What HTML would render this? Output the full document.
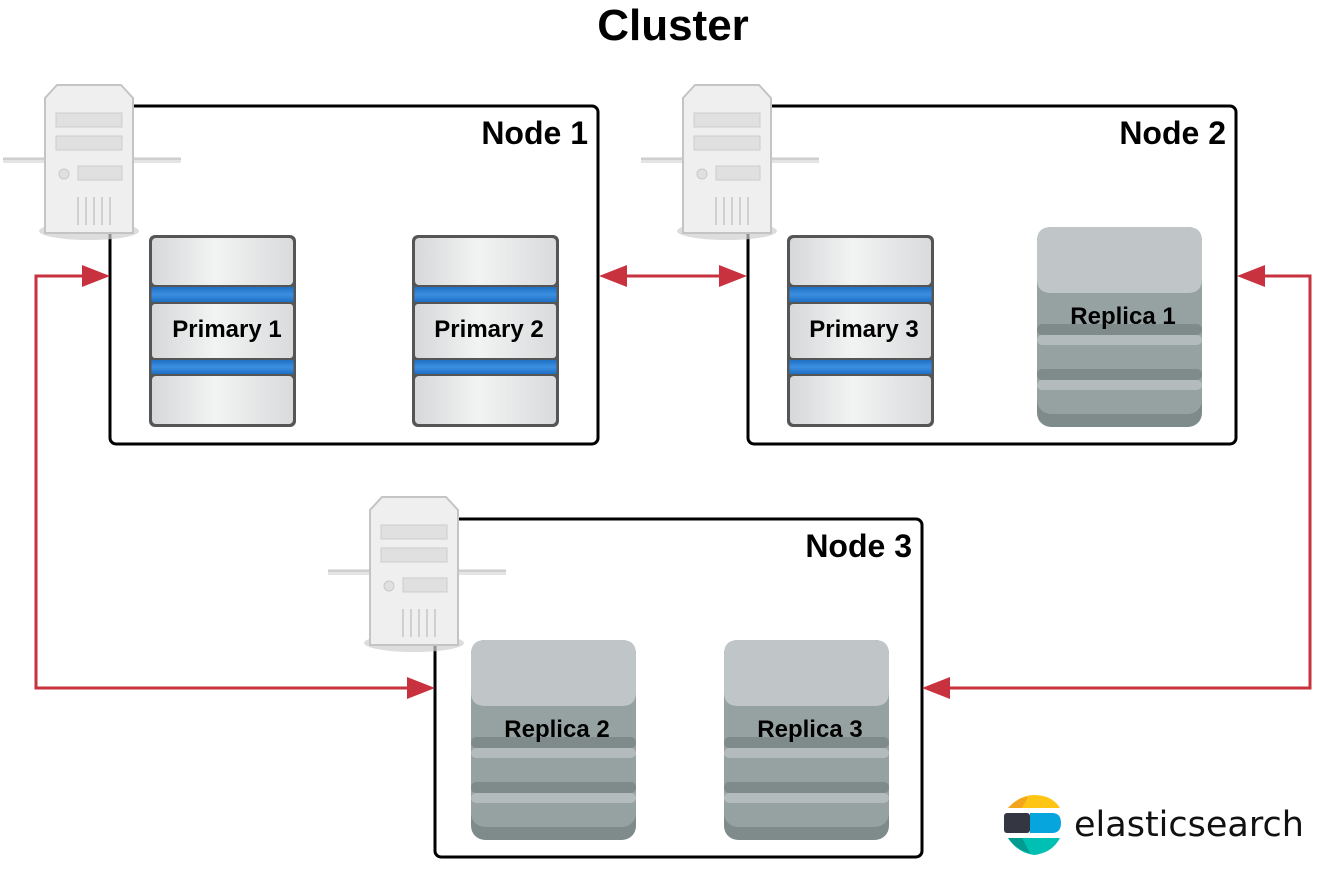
<!DOCTYPE html>
<html><head><meta charset="utf-8"><style>
html,body{margin:0;padding:0;background:#fff;}
svg{display:block;font-family:"Liberation Sans",Arial,sans-serif;}
</style></head><body>
<svg width="1335" height="880" viewBox="0 0 1335 880" xmlns="http://www.w3.org/2000/svg">
<defs>
<linearGradient id="pg" x1="0" x2="1" y1="0" y2="0">
<stop offset="0" stop-color="#d6d8d9"/><stop offset="0.45" stop-color="#f2f3f3"/><stop offset="1" stop-color="#d9dbdc"/>
</linearGradient>
<linearGradient id="bg" x1="0" x2="0" y1="0" y2="1">
<stop offset="0" stop-color="#1f6fc4"/><stop offset="0.5" stop-color="#3b8fe0"/><stop offset="1" stop-color="#1f6fc4"/>
</linearGradient>
<g id="prim">
<rect x="0" y="0" width="147" height="192" rx="6" fill="#555"/>
<rect x="2.5" y="52" width="142" height="15" fill="url(#bg)"/>
<rect x="2.5" y="125" width="142" height="14" fill="url(#bg)"/>
<rect x="3" y="3" width="141" height="47" rx="4" fill="url(#pg)"/>
<rect x="3" y="69" width="141" height="54" rx="3" fill="url(#pg)"/>
<rect x="3" y="141" width="141" height="48" rx="4" fill="url(#pg)"/>
</g>
<g id="rep">
<rect x="0" y="0" width="165" height="200" rx="14" fill="#7f8b8a"/>
<rect x="0" y="0" width="165" height="187" rx="14" fill="#95a2a1"/>
<rect x="0" y="142" width="165" height="11" rx="5" fill="#7f8b8a"/>
<rect x="0" y="153" width="165" height="10" rx="5" fill="#b4bbbd"/>
<rect x="0" y="97" width="165" height="11" rx="5" fill="#7f8b8a"/>
<rect x="0" y="108" width="165" height="10" rx="5" fill="#b4bbbd"/>
<path d="M0 14 Q0 0 14 0 H151 Q165 0 165 14 V52 Q165 66 151 66 H14 Q0 66 0 52 Z" fill="#c0c5c8"/>
</g>
<g id="srv">
<rect x="-42" y="72" width="178" height="6" fill="#e4e4e4"/>
<rect x="-42" y="73" width="178" height="2" fill="#cfcfcf"/>
<ellipse cx="44" cy="146" rx="50" ry="9" fill="#cfcfcf" opacity="0.7"/>
<path d="M12 0 H76 L88 13 V148 H0 V13 Z" fill="#efefef" stroke="#c4c4c4" stroke-width="2"/>
<rect x="11" y="28" width="66" height="14" fill="#e0e0e0" stroke="#cccccc"/>
<rect x="11" y="51" width="66" height="14" fill="#e0e0e0" stroke="#cccccc"/>
<circle cx="19" cy="89" r="5" fill="#e0e0e0" stroke="#c9c9c9"/>
<rect x="33" y="81" width="44" height="14" fill="#e0e0e0" stroke="#cccccc"/>
<g stroke="#d0d0d0" stroke-width="2"><line x1="33" y1="112" x2="33" y2="140"/><line x1="41" y1="112" x2="41" y2="140"/><line x1="49" y1="112" x2="49" y2="140"/><line x1="57" y1="112" x2="57" y2="140"/><line x1="65" y1="112" x2="65" y2="140"/></g>
</g>
</defs>

<text x="673" y="40" text-anchor="middle" font-size="44" font-weight="bold">Cluster</text>

<rect x="110" y="106" width="488" height="338" rx="6" fill="none" stroke="#000" stroke-width="3"/>
<rect x="748" y="106" width="488" height="338" rx="6" fill="none" stroke="#000" stroke-width="3"/>
<rect x="435" y="519" width="487" height="338" rx="6" fill="none" stroke="#000" stroke-width="3"/>

<use href="#srv" x="45" y="85"/>
<use href="#srv" x="683" y="85"/>
<use href="#srv" x="370" y="497"/>

<text x="588" y="144" text-anchor="end" font-size="32" font-weight="bold">Node 1</text>
<text x="1226" y="144" text-anchor="end" font-size="32" font-weight="bold">Node 2</text>
<text x="912" y="557" text-anchor="end" font-size="32" font-weight="bold">Node 3</text>

<use href="#prim" x="149" y="235"/>
<use href="#prim" x="412" y="235"/>
<use href="#prim" x="787" y="235"/>
<g font-size="24" font-weight="bold" text-anchor="middle">
<text x="227" y="337">Primary 1</text>
<text x="489" y="337">Primary 2</text>
<text x="864" y="337">Primary 3</text>
</g>

<use href="#rep" x="1037" y="227"/>
<use href="#rep" x="471" y="640"/>
<use href="#rep" x="724" y="640"/>
<g font-size="24" font-weight="bold" text-anchor="middle">
<text x="1123" y="324">Replica 1</text>
<text x="557" y="737">Replica 2</text>
<text x="810" y="737">Replica 3</text>
</g>

<g stroke="#c8313e" stroke-width="3" fill="none">
<polyline points="84,276 36,276 36,688 410,688"/>
<line x1="622" y1="276" x2="724" y2="276"/>
<polyline points="1262,276 1310,276 1310,688 946,688"/>
</g>
<g fill="#c8313e">
<polygon points="110,276 82,265 82,287"/>
<polygon points="435,688 407,677 407,699"/>
<polygon points="599,276 627,265 627,287"/>
<polygon points="747,276 719,265 719,287"/>
<polygon points="1237,276 1265,265 1265,287"/>
<polygon points="922,688 950,677 950,699"/>
</g>

<g transform="translate(1004,795)">
<path d="M4 13 Q16 0 30 0 Q48 0 56 13 Z" fill="#fec514"/>
<path d="M4 13 Q14 2 24 2 L18 13 Z" fill="#f3a51d"/>
<rect x="0" y="18" width="26" height="20" rx="3" fill="#343741"/>
<path d="M26 18 H48 Q57 18 57 28 Q57 38 48 38 H26 Z" fill="#07a5de"/>
<path d="M4 43 H56 Q48 58 30 60 Q14 58 4 43 Z" fill="#00bfb3"/>
<path d="M4 43 H18 L26 58 Q12 55 4 43 Z" fill="#019b8f"/>
</g>
<text x="1074" y="836" font-size="35" fill="#111" font-family="'DejaVu Sans','Liberation Sans',sans-serif">elasticsearch</text>
</svg>
</body></html>
